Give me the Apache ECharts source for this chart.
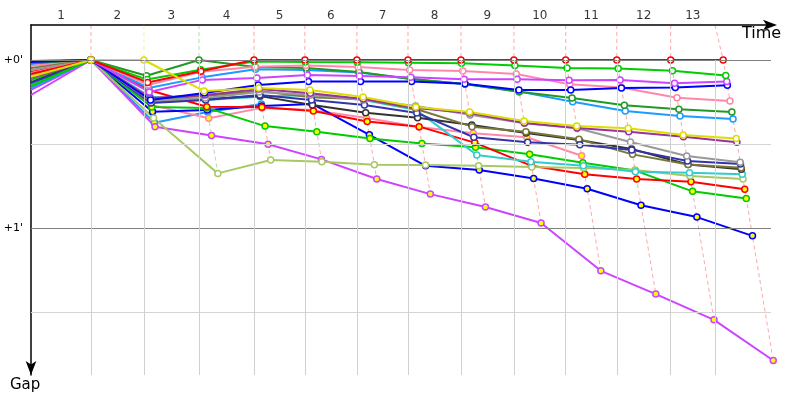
<!DOCTYPE html>
<html>
<head>
<meta charset="utf-8">
<script src="https://cdn.jsdelivr.net/npm/echarts@6/dist/echarts.min.js"></script>
<style>
  html, body { margin: 0; background: #fff; }
  #chart { width: 800px; height: 400px; }
</style>
</head>
<body>
<div id="chart"></div>
<script>
// lap numbers shown above the time axis
const laps = ["1", "2", "3", "4", "5", "6", "7", "8", "9", "10", "11", "12", "13"];
// leader's cumulative time (s) at end of each lap, and where the lap grid lines sit
const leaderTimes = [128.5, 242, 360, 478, 587, 698.5, 808, 921.5, 1035, 1146, 1255.5, 1371, 1483.5];
const lapGridTimes = [128.5, 242, 360, 478, 587, 698.5, 808, 921.5, 1035, 1146, 1255.5, 1371, 1466];
// gap reference lines (s) and their labels
const gapTicks = [0, 30, 60, 90];
const gapTickLabels = ["+0'", "", "+1'", ""];

// gap to leader (s) at the start line and after each lap
const startGaps = [1.4, 2.1, 10.7, 0.4, 7.1, 4.3, 5.4, 8.9, 7.9, 2.9, 8.2, 3.6, 6.4, 10, 1.1, 4.6, 0.7, 12.5, 9.3, 5, 6];
const red = [0, 8, 4, 0, 0, 0, 0, 0, 0, 0, 0, 0, 0];
const green = [0, 7, 3.5, 0.5, 0.7, 0.8, 1, 1.2, 2, 2.9, 3, 3.8, 5.5];
const magenta = [0, 11.4, 7.1, 6.4, 5.4, 5.7, 6.2, 6.9, 6.9, 7.2, 7.1, 8.3, 7.7];
const blue = [0, 14.3, 11.8, 8.9, 7.7, 7.7, 7.7, 8.5, 10.7, 10.7, 10, 9.8, 9];
const pink = [0, 8.9, 4.2, 2.4, 2, 2.5, 3.6, 3.9, 5, 8.7, 9.8, 13.5, 14.6];
const darkGreen = [0, 5.6, 0, 2.5, 2.9, 4.3, 6.8, 8.6, 11.3, 13.6, 16.2, 17.6, 18.6];
const skyBlue = [0, 10, 6.2, 3.3, 3.6, 4.5, 6.8, 8.6, 11.3, 14.9, 18.2, 20, 21.1];
const plum = [0, 13.6, 12.5, 10.4, 11.9, 13.9, 17.1, 18.9, 22.5, 24.3, 25.6, 27.4, 29.4];
const gray = [0, 14.6, 13.6, 11.4, 12.5, 14.3, 16.4, 19.6, 22.6, 24.4, 29.3, 34.3, 36.5];
const navy = [0, 15.4, 14.3, 12.5, 14.3, 16.1, 18.9, 27.6, 29.4, 30.3, 32.1, 36.1, 37.1];
const olive = [0, 13.9, 12.9, 11.1, 13.3, 14, 17.5, 23.8, 25.6, 28.3, 33.7, 37.3, 38.5];
const black = [0, 15, 13.9, 12.9, 16.1, 18.8, 20.6, 23.2, 26.1, 28.6, 31.8, 37.3, 39];
const cyan = [0, 13.1, 14.3, 13.1, 12.5, 14.3, 17.9, 33.9, 36.3, 37.8, 39.9, 40.3, 40.8];
const lime = [0, 20.7, 40.5, 35.7, 36.3, 37.4, 37.5, 37.8, 38.2, 38.6, 39.3, 41.4, 42.5];
const redB = [0, 10.7, 16.7, 16.9, 18.2, 22, 23.8, 29.5, 37.8, 40.8, 42.5, 43.5, 46.2];
const greenB = [0, 16.8, 17.1, 23.6, 25.6, 28, 29.8, 31.2, 33.7, 36.7, 39.5, 46.9, 49.5];
const blueB = [0, 18.5, 17.9, 16.4, 15.7, 26.7, 37.8, 39.3, 42.3, 46, 51.9, 56.1, 62.8];
const magentaB = [0, 23.8, 27, 30.1, 35.5, 42.5, 47.9, 52.5, 58.2, 75.3, 83.6, 92.8, 107.3];
const pinkB = [0, 16.1, 20.8, 17.1, 17.9, 20.7, 23.9, 26.2, 27.6, 34.2];
const skyBlueB = [0, 22.4, 18.6, 15.7];
const yellow = [0, 0, 11.1, 10, 10.7, 13.2, 16.8, 18.6, 21.8, 23.6, 24.4, 26.8, 28];

// listed bottom layer first, so the leaders end up drawn on top
const allGaps = [skyBlueB, pinkB, magentaB, blueB, greenB, redB, lime, cyan, black, olive, navy,
  gray, plum, skyBlue, darkGreen, pink, blue, magenta, green, red, yellow];
const lineColors = ["#1e9bff", "#ff88aa", "#cc44ff", "#0000ff", "#00cc00", "#ff0000", "#a8c864",
  "#33cccc", "#333333", "#77773a", "#3333aa", "#999999", "#993399", "#1e9bff", "#229922",
  "#ff88aa", "#0000ff", "#cc44ff", "#00cc00", "#ff0000", "#dddd00"];
const markerFills = allGaps.map((g, i) => (i < 6 ? "#ffff00" : "#ffffff"));

const yMin = -12.5, yMax = 112.5;
const font = "DejaVu Sans";

const chart = echarts.init(document.getElementById("chart"));

function fade(hex, a) {
  const n = parseInt(hex.slice(1), 16);
  return "rgba(" + (n >> 16) + "," + ((n >> 8) & 255) + "," + (n & 255) + "," + a + ")";
}

// dashed line per lap, running through every car's point for that lap
const lapLines = laps.map((l, i) => {
  let maxGap = 0, lead = -1, minGap = Infinity;
  allGaps.forEach((g, k) => {
    if (g.length > i) {
      if (g[i] > maxGap) maxGap = g[i];
      if (g[i] < minGap || (g[i] === minGap && lineColors[k] === "#ff0000")) { minGap = g[i]; lead = k; }
    }
  });
  return {
    type: "line",
    silent: true,
    clip: false,
    symbol: "none",
    z: 1,
    data: [[lapGridTimes[i], yMin], [leaderTimes[i], 0], [leaderTimes[i] + maxGap, maxGap]],
    lineStyle: { color: fade(lineColors[lead], 0.35), width: 1, type: [4, 3] },
  };
});

const cars = allGaps.map((g, k) => ({
  type: "line",
  z: 3,
  clip: false,
  symbol: "circle",
  symbolSize: 6,
  data: [{ value: [0, startGaps[k]], symbol: "none" }].concat(g.map((v, i) => [leaderTimes[i] + v, v])),
  lineStyle: { color: lineColors[k], width: 2 },
  itemStyle: { color: markerFills[k], borderColor: lineColors[k], borderWidth: 1.5 },
}));

const gridSeries = {
  type: "line",
  silent: true,
  symbol: "none",
  z: 0,
  data: [],
  markLine: {
    silent: true,
    symbol: ["none", "none"],
    animation: false,
    data: gapTicks.map((v, i) => ({
      yAxis: v,
      lineStyle: { color: i % 2 ? "#d4d4d4" : "#808080", width: 1, type: "solid" },
      label: {
        show: gapTickLabels[i] !== "",
        position: "start",
        distance: 8,
        formatter: gapTickLabels[i],
        color: "#000",
        fontFamily: font,
        fontSize: 11,
      },
    })).concat(lapGridTimes.map(t => [
      { coord: [t, 0], lineStyle: { color: "#d0d0d0", width: 1, type: "solid" }, label: { show: false } },
      { coord: [t, yMax] },
    ])),
  },
};

const lapLabelSeries = {
  type: "scatter",
  silent: true,
  clip: false,
  symbolSize: 0,
  data: laps.map((l, i) => [((i ? lapGridTimes[i - 1] : 0) + lapGridTimes[i]) / 2, yMin]),
  label: {
    show: true,
    position: "top",
    distance: 3,
    formatter: p => laps[p.dataIndex],
    color: "#000",
    fontFamily: font,
    fontSize: 12,
  },
};

chart.setOption({
  animation: false,
  grid: { left: 31, right: 29, top: 25, bottom: 25 },
  xAxis: {
    type: "value",
    position: "top",
    min: 0,
    max: 1586,
    axisLine: {
      show: true, onZero: false, symbol: ["none", "arrow"], symbolSize: [8, 14], symbolOffset: [0, 6],
      lineStyle: { color: "#000", width: 1.5 },
    },
    axisTick: { show: false },
    axisLabel: { show: false },
    splitLine: { show: false },
  },
  yAxis: {
    type: "value",
    inverse: true,
    min: yMin,
    max: yMax,
    axisLine: {
      show: true, onZero: false, symbol: ["arrow", "none"], symbolSize: [8, 14],
      lineStyle: { color: "#000", width: 1.5 },
    },
    axisTick: { show: false },
    axisLabel: { show: false },
    splitLine: { show: false },
  },
  graphic: [
    { type: "text", left: 742, top: 26, style: { text: "Time", font: "16px " + font, fill: "#000" } },
    { type: "text", left: 10, top: 378, style: { text: "Gap", font: "15px " + font, fill: "#000" } },
  ],
  series: [gridSeries].concat(lapLines, cars, [lapLabelSeries]),
});

window.addEventListener("resize", () => {
  chart.resize();
});
</script>
</body>
</html>
